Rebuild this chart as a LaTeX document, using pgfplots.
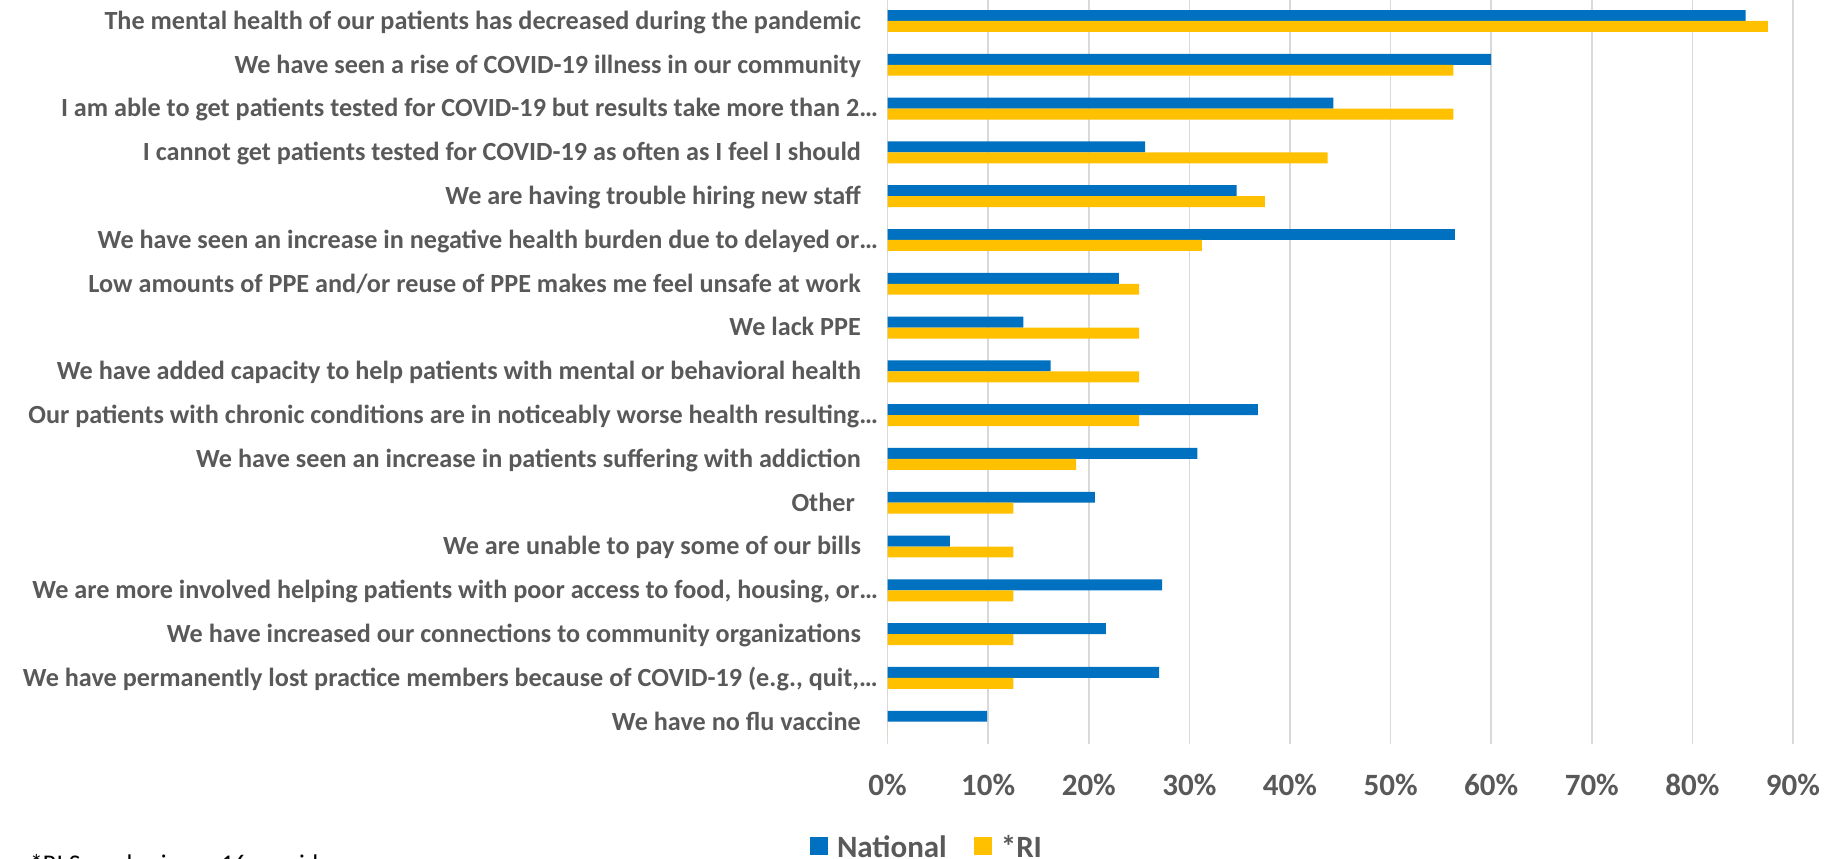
\documentclass[border=0pt]{standalone}
\usepackage{fontspec}
\setmainfont{Carlito}
\usepackage{pgfplots}
\pgfplotsset{compat=1.18}
\usepackage{pgfplotstable}
\definecolor{natblue}{HTML}{0070C0}
\definecolor{rigold}{HTML}{FFC000}
\definecolor{txtgray}{HTML}{595959}
\definecolor{gridgray}{HTML}{D9D9D9}
\pgfplotstableread{
row nat ri
1 85.3 87.5
2 60.0 56.25
3 44.3 56.25
4 25.6 43.75
5 34.7 37.5
6 56.4 31.25
7 23.0 25
8 13.5 25
9 16.2 25
10 36.8 25
11 30.8 18.75
12 20.6 12.5
13 6.2 12.5
14 27.3 12.5
15 21.7 12.5
16 27.0 12.5
17 9.9 0
}\datatable
\newcommand{\catfont}{\fontsize{26.2bp}{30bp}\selectfont\bfseries}
\newcommand{\tickfont}{\fontsize{31bp}{36bp}\selectfont\bfseries}
\newcommand{\tsp}{\kern17bp\null}
\begin{document}
\begin{tikzpicture}
\begin{axis}[
  at={(887.6bp,115.4bp)}, anchor=south west,
  scale only axis, width=905.4bp, height=744.5bp,
  xbar, bar width=0.25,
  xmin=0, xmax=90, ymin=0.5, ymax=17.5, y dir=reverse,
  xtick={0,10,...,90},
  xticklabels={0\%,10\%,20\%,30\%,40\%,50\%,60\%,70\%,80\%,90\%},
  ytick={1,...,17},
  yticklabels={
    The mental health of our patients has decreased during the pandemic\tsp,
    We have seen a rise of COVID-19 illness in our community\tsp,
    I am able to get patients tested for COVID-19 but results take more than 2…,
    I cannot get patients tested for COVID-19 as often as I feel I should\tsp,
    We are having trouble hiring new staff\tsp,
    We have seen an increase in negative health burden due to delayed or…,
    Low amounts of PPE and/or reuse of PPE makes me feel unsafe at work\tsp,
    We lack PPE\tsp,
    We have added capacity to help patients with mental or behavioral health\tsp,
    Our patients with chronic conditions are in noticeably worse health resulting…,
    We have seen an increase in patients suffering with addiction\tsp,
    Other\kern23bp\null,
    We are unable to pay some of our bills\tsp,
    {We are more involved helping patients with poor access to food, housing, or…},
    We have increased our connections to community organizations\tsp,
    {We have permanently lost practice members because of COVID-19 (e.g., quit,…},
    We have no flu vaccine\tsp
  },
  axis line style={draw=none},
  tick style={draw=none},
  major tick length=0pt,
  xmajorgrids, grid style={draw=gridgray, line width=1.5bp},
  xticklabel style={font=\tickfont, text=txtgray, anchor=base, inner sep=0pt, yshift=-51.4bp},
  yticklabel style={font=\catfont, text=txtgray, anchor=base east, inner sep=0pt, xshift=-9.5bp, yshift=-8.4bp},
  legend columns=2,
  legend style={at={(axis description cs:-0.0857,-0.1389)}, anchor=west, draw=none, fill=none,
    inner sep=0pt, outer sep=0pt, font=\tickfont, text=txtgray,
    nodes={inner sep=0pt, text depth=0.15em},
    /tikz/every odd column/.append style={column sep=9bp},
    /tikz/every even column/.append style={column sep=27bp}},
  legend image code/.code={\fill[#1] (0bp,-8bp) rectangle (18bp,10bp);},
]
\addplot[draw=none, fill=natblue, bar shift=-0.125] table[x=nat, y=row]{\datatable};
\addlegendentry{National}
\addplot[draw=none, fill=rigold, bar shift=0.125] table[x=ri, y=row]{\datatable};
\addlegendentry{*RI}
\end{axis}
\node[anchor=base west, inner sep=0pt, font=\fontsize{25.5bp}{30bp}\selectfont, text=black] at (30bp,-13bp) {*RI Sample size n=16 providers};
\pgfresetboundingbox
\path (0,0) rectangle (1841bp,859bp);
\end{tikzpicture}
\end{document}
